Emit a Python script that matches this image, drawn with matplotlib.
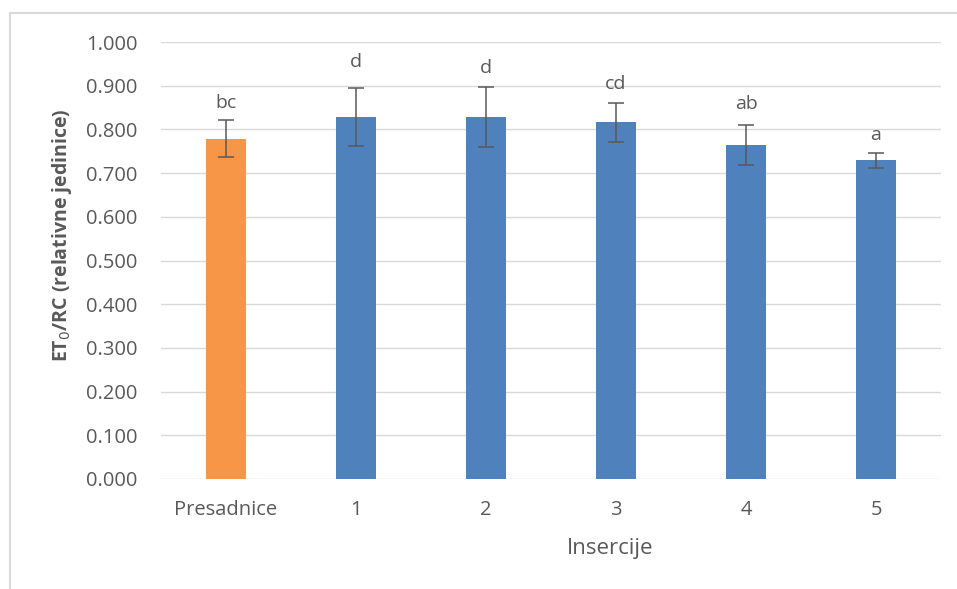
import matplotlib.pyplot as plt
from matplotlib.lines import Line2D

# data
categories = ['Presadnice', '1', '2', '3', '4', '5']
means = [0.779, 0.828, 0.829, 0.816, 0.765, 0.729]
errors = [0.042, 0.067, 0.069, 0.044, 0.046, 0.018]
letters = ['bc', 'd', 'd', 'cd', 'ab', 'a']
letter_y = [0.849, 0.942, 0.928, 0.892, 0.847, 0.776]
bar_colors = ['#F79646', '#4F81BD', '#4F81BD', '#4F81BD', '#4F81BD', '#4F81BD']

plt.rcParams['font.family'] = ['Open Sans', 'DejaVu Sans']
text_color = '#595959'

fig = plt.figure(figsize=(9.57, 5.89), dpi=100)
ax = fig.add_axes([161 / 957, 1 - 479 / 589, 780 / 957, 437 / 589])

x = range(len(categories))
ax.bar(x, means, width=0.31, color=bar_colors, zorder=3)
ax.errorbar(x, means, yerr=errors, fmt='none', ecolor='#595959',
            elinewidth=1.1, capsize=5.5, capthick=1.1, zorder=4)

for i, (lab, y) in enumerate(zip(letters, letter_y)):
    ax.text(i, y, lab, ha='center', va='baseline', fontsize=14, color=text_color)

ax.set_xlim(-0.5, len(categories) - 0.5)
ax.set_ylim(0, 1.0)
ax.set_yticks([i / 10 for i in range(11)])
ax.set_yticklabels([f'{i / 10:.3f}' for i in range(11)])
ax.set_xticks(list(x))
ax.set_xticklabels(categories)
ax.tick_params(axis='both', length=0, labelsize=14.5, colors=text_color)
ax.tick_params(axis='x', pad=15)
ax.tick_params(axis='y', pad=17)

ax.grid(axis='y', color='#D9D9D9', linewidth=1.0, zorder=0)
for s in ax.spines.values():
    s.set_visible(False)

ax.set_xlabel('Insercije', fontsize=16, color=text_color)
ax.xaxis.set_label_coords(0.576, -0.136)
ax.set_ylabel('ET$_0$/RC (relativne jedinice)', fontsize=14, fontweight='bold',
              color=text_color)
ax.yaxis.set_label_coords(-0.112, 0.558)

# chart area border (only left and top visible in the reference crop)
fig.add_artist(Line2D([10 / 957, 10 / 957], [0, 1 - 13 / 589], color='#D9D9D9', lw=1.5))
fig.add_artist(Line2D([10 / 957, 1], [1 - 13 / 589, 1 - 13 / 589], color='#D9D9D9', lw=1.5))

fig.savefig('out.png', dpi=100)
